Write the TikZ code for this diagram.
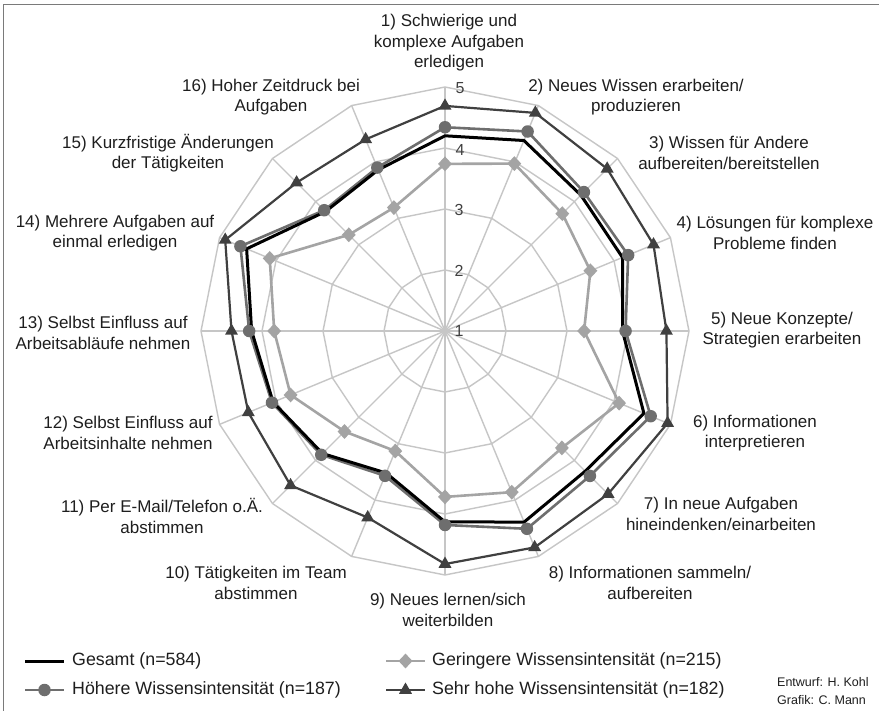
\documentclass[tikz,border=0pt]{standalone}
\usepackage{fontspec}
\setmainfont{Liberation Sans}
\usetikzlibrary{shapes.geometric}
\definecolor{gridc}{HTML}{C6C6C6}
\definecolor{lowc}{HTML}{A4A4A4}
\definecolor{highc}{HTML}{6E6E6E}
\definecolor{vhighc}{HTML}{404040}
\definecolor{framec}{HTML}{7A7A7A}
\definecolor{txtc}{HTML}{1E1E1E}
\begin{document}
\begin{tikzpicture}[x=1pt,y=-1pt,
  lab/.style={align=center,font=\fontsize{17}{20.5}\selectfont,text=txtc,inner sep=0pt},
  leg/.style={anchor=west,font=\fontsize{17.8}{20}\selectfont,text=txtc,inner sep=0pt},
  small/.style={anchor=west,font=\fontsize{12.5}{14}\selectfont,text=txtc,inner sep=0pt},
  vlab/.style={font=\fontsize{16}{18}\selectfont,text=vhighc,inner sep=0pt},
  gridline/.style={draw=gridc,line width=1.4pt},
  totline/.style={draw=black,line width=3pt,line join=miter},
  lowline/.style={draw=lowc,line width=2.6pt},
  highline/.style={draw=highc,line width=2.6pt},
  vhighline/.style={draw=vhighc,line width=2.2pt},
  lowmark/.style={diamond,fill=lowc,inner sep=0pt,minimum width=14pt,minimum height=15pt},
  highmark/.style={circle,fill=highc,inner sep=0pt,minimum size=12.5pt},
  vhighmark/.style={regular polygon,regular polygon sides=3,fill=vhighc,inner sep=0pt,minimum size=15pt},
  framel/.style={draw=framec,line width=1.5pt}]
\useasboundingbox (0,0) rectangle (879,711);
\fill[white] (0,0) rectangle (879,711);
% frame
\coordinate (fa) at (3.5,711);
\coordinate (fb) at (3.5,4.5);
\coordinate (fc) at (879,4.5);
\draw[framel] (fa) -- (fb) -- (fc);
% center
\coordinate (C) at (445,331);
% grid
\foreach \l in {2,...,5}{
  \foreach \k in {1,...,16}{
    \coordinate (g\l-\k) at ({445+(\l-1)*61*sin((\k-1)*22.5)},{331-(\l-1)*61*cos((\k-1)*22.5)});
  }
}
\foreach \k in {1,...,16}{ \draw[gridline] (C) -- (g5-\k); }
\foreach \l in {2,...,5}{
  \draw[gridline] (g\l-1) \foreach \k in {2,...,16}{ -- (g\l-\k) } -- cycle;
}
% value labels
\node[vlab] (v1) at (459,331) {1};
\node[vlab] (v2) at (459,271) {2};
\node[vlab] (v3) at (459,210) {3};
\node[vlab] (v4) at (460,150) {4};
\node[vlab] (v5) at (460,88) {5};
% data
\def\trivals{4.69,4.87,4.76,4.70,4.63,4.95,4.78,4.84,4.82,4.31,4.58,4.49,4.50,4.90,4.44,4.40}
\def\circvals{4.34,4.54,4.22,4.25,3.96,4.65,4.36,4.51,4.18,3.57,3.87,4.07,4.21,4.63,3.80,3.90}
\def\totvals{4.20,4.38,4.15,4.15,3.91,4.53,4.25,4.39,4.13,3.52,3.84,4.05,4.17,4.52,3.77,3.86}
\def\diavals{3.74,3.97,3.72,3.58,3.28,4.09,3.71,3.86,3.72,3.13,3.33,3.74,3.80,4.11,3.23,3.19}
\foreach \v [count=\k] in \trivals{
  \coordinate (t\k) at ({445+(\v-1)*61*sin((\k-1)*22.5)},{331-(\v-1)*61*cos((\k-1)*22.5)});}
\foreach \v [count=\k] in \circvals{
  \coordinate (h\k) at ({445+(\v-1)*61*sin((\k-1)*22.5)},{331-(\v-1)*61*cos((\k-1)*22.5)});}
\foreach \v [count=\k] in \totvals{
  \coordinate (s\k) at ({445+(\v-1)*61*sin((\k-1)*22.5)},{331-(\v-1)*61*cos((\k-1)*22.5)});}
\foreach \v [count=\k] in \diavals{
  \coordinate (d\k) at ({445+(\v-1)*61*sin((\k-1)*22.5)},{331-(\v-1)*61*cos((\k-1)*22.5)});}
% series
\draw[lowline] (d1) \foreach \k in {2,...,16}{ -- (d\k) } -- cycle;
\foreach \k in {1,...,16}{ \node[lowmark] (dm\k) at (d\k) {}; }
\draw[highline] (h1) \foreach \k in {2,...,16}{ -- (h\k) } -- cycle;
\draw[totline] (s1) \foreach \k in {2,...,16}{ -- (s\k) } -- cycle;
\foreach \k in {1,...,16}{ \node[highmark] (hm\k) at (h\k) {}; }
\draw[vhighline] (t1) \foreach \k in {2,...,16}{ -- (t\k) } -- cycle;
\foreach \k in {1,...,16}{ \node[vhighmark] (tm\k) at (t\k) {}; }
% category labels
\node[lab] (l1) at (449,43) {1) Schwierige und\\komplexe Aufgaben\\erledigen};
\node[lab] (l2) at (636,97) {2) Neues Wissen erarbeiten/\\produzieren};
\node[lab] (l3) at (729,153) {3) Wissen für Andere\\aufbereiten/bereitstellen};
\node[lab] (l4) at (775,233) {4) Lösungen für komplexe\\Probleme finden};
\node[lab] (l5) at (782,330) {5) Neue Konzepte/\\Strategien erarbeiten};
\node[lab] (l6) at (755,433) {6) Informationen\\interpretieren};
\node[lab] (l7) at (721,514) {7) In neue Aufgaben\\hineindenken/einarbeiten};
\node[lab] (l8) at (650,583) {8) Informationen sammeln/\\aufbereiten};
\node[lab] (l9) at (448,610) {9) Neues lernen/sich\\weiterbilden};
\node[lab] (l10) at (256,583) {10) Tätigkeiten im Team\\abstimmen};
\node[lab] (l11) at (162,516) {11) Per E-Mail/Telefon o.Ä.\\abstimmen};
\node[lab] (l12) at (128,433) {12) Selbst Einfluss auf\\Arbeitsinhalte nehmen};
\node[lab] (l13) at (103,333) {13) Selbst Einfluss auf\\Arbeitsabläufe nehmen};
\node[lab] (l14) at (115,233) {14) Mehrere Aufgaben auf\\einmal erledigen};
\node[lab] (l15) at (168,153) {15) Kurzfristige Änderungen\\der Tätigkeiten};
\node[lab] (l16) at (271,97) {16) Hoher Zeitdruck bei\\Aufgaben};
% legend
\coordinate (la1) at (25,661); \coordinate (lb1) at (64,661);
\draw[totline] (la1) -- (lb1);
\node[leg] (lt1) at (72,661) {Gesamt (n=584)};
\coordinate (la2) at (25,690); \coordinate (lb2) at (64,690);
\draw[highline] (la2) -- (lb2);
\node[highmark] (lm2) at (44.5,690) {};
\node[leg] (lt2) at (72,690) {Höhere Wissensintensität (n=187)};
\coordinate (la3) at (386,661); \coordinate (lb3) at (425,661);
\draw[lowline] (la3) -- (lb3);
\node[lowmark] (lm3) at (405.5,661) {};
\node[leg] (lt3) at (432,661) {Geringere Wissensintensität (n=215)};
\coordinate (la4) at (386,690); \coordinate (lb4) at (425,690);
\draw[vhighline] (la4) -- (lb4);
\node[vhighmark] (lm4) at (405.5,690) {};
\node[leg] (lt4) at (432,690) {Sehr hohe Wissensintensität (n=182)};
\node[small] (e1) at (777,682) {Entwurf: H. Kohl};
\node[small] (e2) at (777,700) {Grafik: C. Mann};
\end{tikzpicture}
\end{document}
